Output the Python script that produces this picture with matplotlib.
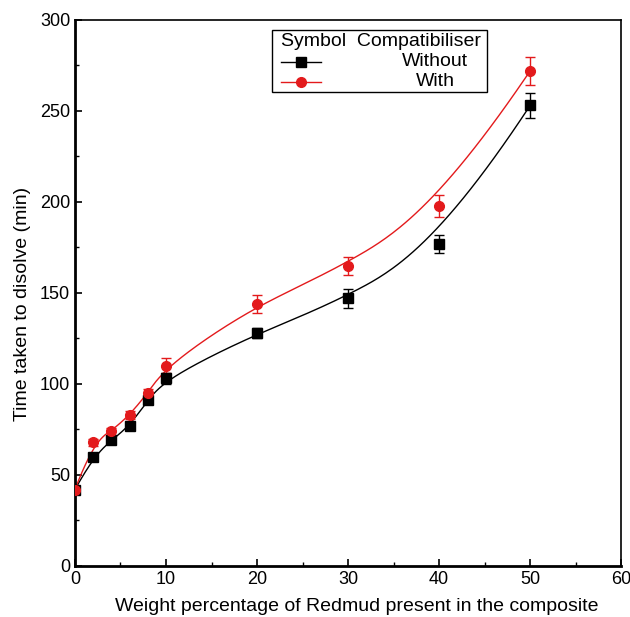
import numpy as np
import matplotlib
matplotlib.use("Agg")
import matplotlib.pyplot as plt
from matplotlib.lines import Line2D
from matplotlib.patches import Rectangle
from matplotlib.ticker import MultipleLocator

plt.rcParams['font.family'] = ['Liberation Sans', 'DejaVu Sans']

weight = [0, 2, 4, 6, 8, 10, 20, 30, 40, 50]
without = [42, 60, 69, 77, 91, 103, 128, 147, 177, 253]
without_err = [2, 2, 2, 2, 2, 3, 3, 5, 5, 7]
with_c = [42, 68, 74, 83, 95, 110, 144, 165, 198, 272]
with_err = [2, 2, 2, 2, 2, 4, 5, 5, 6, 7.5]


def bspline(xs, ys, k=3, n=400):
    P = np.column_stack([xs, ys]).astype(float)
    m = len(P)
    inner = np.linspace(0, 1, m - k + 1)
    t = np.concatenate([np.zeros(k), inner, np.ones(k)])
    us = np.linspace(0, 1, n)
    out = []
    for u in us:
        if u >= 1:
            i = m - 1
        else:
            i = np.searchsorted(t, u, side='right') - 1
        d = [P[j].copy() for j in range(i - k, i + 1)]
        for r in range(1, k + 1):
            for j in range(k, r - 1, -1):
                idx = j + i - k
                denom = t[idx + k - r + 1] - t[idx]
                a = 0 if denom == 0 else (u - t[idx]) / denom
                d[j] = (1 - a) * d[j - 1] + a * d[j]
        out.append(d[k])
    out = np.array(out)
    return out[:, 0], out[:, 1]


fig = plt.figure(figsize=(6.3, 6.17), dpi=100)
ax = fig.add_axes([0.119, 0.0827, 0.867, 0.885])

red = '#e31a1c'
for ys, err, col, mk in [(without, without_err, 'black', 's'), (with_c, with_err, red, 'o')]:
    bx, by = bspline(weight, ys)
    ax.plot(bx, by, color=col, lw=1.0, zorder=2)
    ax.errorbar(weight, ys, yerr=err, fmt=mk, color=col, ms=7, capsize=3.5,
                elinewidth=1.0, capthick=1.0, zorder=3)

ax.set_xlim(0, 60)
ax.set_ylim(0, 300)
ax.xaxis.set_major_locator(MultipleLocator(10))
ax.xaxis.set_minor_locator(MultipleLocator(5))
ax.yaxis.set_major_locator(MultipleLocator(50))
ax.yaxis.set_minor_locator(MultipleLocator(25))
ax.tick_params(which='both', direction='in', labelsize=13, top=False, right=False)
ax.tick_params(which='major', length=5, width=1.2)
ax.tick_params(which='minor', length=3, width=1.0)
for s in ['left', 'bottom']:
    ax.spines[s].set_linewidth(2.0)
for s in ['top', 'right']:
    ax.spines[s].set_linewidth(1.2)

ax.set_xlabel('Weight percentage of Redmud present in the composite', fontsize=14)
ax.set_ylabel('Time taken to disolve (min)', fontsize=14)
ax.xaxis.set_label_coords(0.515, -0.058)
ax.yaxis.set_label_coords(-0.08, 0.48)

# legend
def fx(px):
    return (px - 75) / (621 - 75)

def fy(py):
    return (566 - py) / (566 - 20)

ax.add_patch(Rectangle((fx(272), fy(92)), fx(487) - fx(272), fy(30) - fy(92),
                       transform=ax.transAxes, fill=False, ec='black', lw=1.0, zorder=5))
ax.text(fx(281), fy(42), 'Symbol  Compatibiliser', transform=ax.transAxes,
        fontsize=14, va='center', ha='left', zorder=6)
for py, col, mk, lab in [(62, 'black', 's', 'Without'), (82, red, 'o', 'With')]:
    ax.add_line(Line2D([fx(281), fx(321)], [fy(py), fy(py)], color=col, lw=1.0,
                       transform=ax.transAxes, zorder=6))
    ax.add_line(Line2D([fx(301)], [fy(py)], color=col, marker=mk, ms=7,
                       transform=ax.transAxes, zorder=6))
    ax.text(fx(435), fy(py), lab, transform=ax.transAxes, fontsize=14,
            va='center', ha='center', zorder=6)

fig.savefig('out.png', dpi=100)
